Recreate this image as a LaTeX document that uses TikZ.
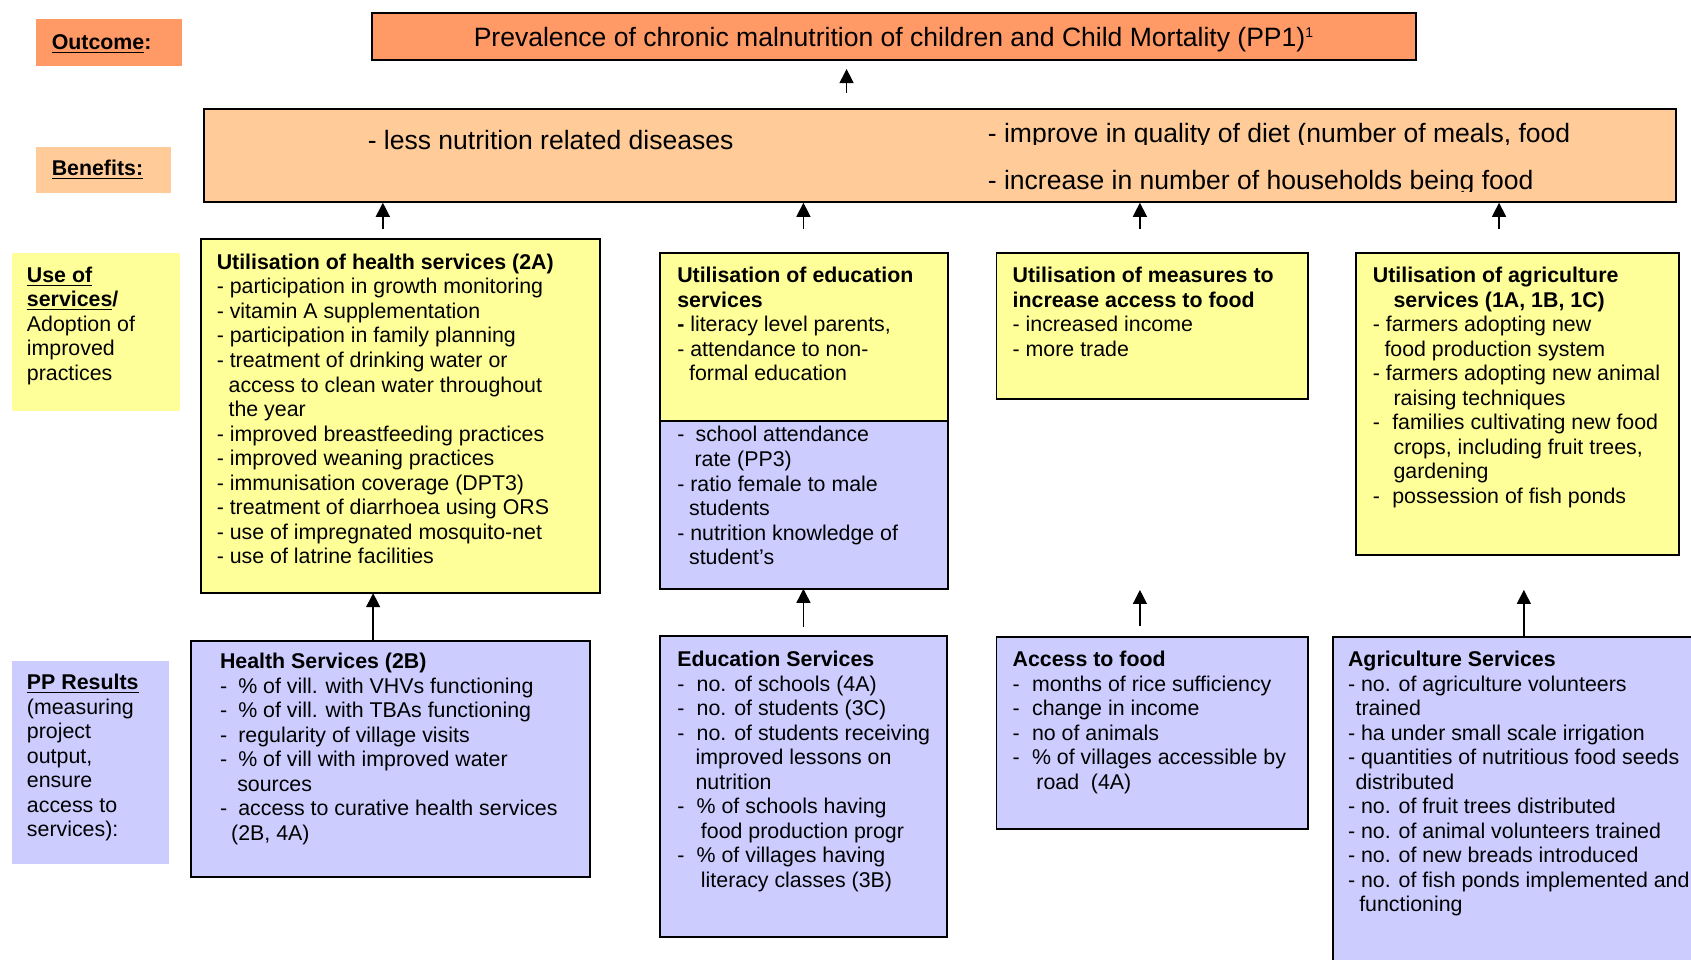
\documentclass[tikz,border=0pt]{standalone}
\usepackage{fontspec}
\setmainfont{Liberation Sans}
\usetikzlibrary{arrows.meta}

\definecolor{outorange}{HTML}{FF9966}
\definecolor{benorange}{HTML}{FFCC99}
\definecolor{useyellow}{HTML}{FFFF99}
\definecolor{pplav}{HTML}{CCCCFF}

% a dash set in a fixed-width slot, for hanging list items
\newcommand\dsh[1]{\makebox[#1][l]{-}}
% stacked lines whose baseline is the baseline of the first line
\newcommand\stack[1]{\begin{tabular}[t]{@{}l@{}}#1\end{tabular}}

% rectangle node given by its two corners (x1,y1) (x2,y2)
\newcommand\rectnode[6]{%
  \pgfmathsetmacro\rnw{(#5-#3)*0.5}%
  \pgfmathsetmacro\rnh{(#6-#4)*0.5}%
  \node[#2, minimum width=\rnw pt, minimum height=\rnh pt] (#1) at ({(#3+#5)/2},{(#4+#6)/2}) {};%
}

\tikzset{
  box/.style={draw=black, line width=0.9pt, inner sep=0pt, outer sep=0pt, rectangle},
  tag/.style={inner sep=0pt, outer sep=0pt, rectangle},
  txt/.style={anchor=base west, inner sep=0pt, outer sep=0pt,
              font=\fontsize{9.9}{11.37}\selectfont},
  bigtxt/.style={anchor=base west, inner sep=0pt, outer sep=0pt,
              font=\fontsize{12.3}{14}\selectfont},
  arr/.style={line width=0.6pt, -{Triangle[length=6.5pt,width=6.5pt]}},
}

\begin{document}
\begin{tikzpicture}[x=0.5pt, y=-0.5pt]
\fill[white] (0,0) rectangle (1568,890);
\clip (0,0) rectangle (1568,890);

% ---------- row labels ----------
\rectnode{lblOut}{tag, fill=outorange}{33}{18}{169}{61}
\node[txt] (lblOutT) at (48,45.5) {\textbf{\underline{Outcome}:}};

\rectnode{lblBen}{tag, fill=benorange}{33}{136}{159}{179}
\node[txt] (lblBenT) at (48,162.5) {\textbf{\underline{Benefits:}}};

\rectnode{lblUse}{tag, fill=useyellow}{11}{235}{167}{381}
\node[txt] (lblUseT) at (25,261.5) {\stack{\textbf{\underline{Use of}}\\
\textbf{\underline{services}/}\\
Adoption of\\
improved\\
practices}};

\rectnode{lblPP}{tag, fill=pplav}{11}{613}{157}{801}
\node[txt] (lblPPT) at (25,639.5) {\stack{\textbf{\underline{PP Results}}\\
(measuring\\
project\\
output,\\
ensure\\
access to\\
services):}};

% ---------- outcome ----------
\rectnode{out}{box, fill=outorange}{345}{12}{1313}{56}
\node[anchor=base, inner sep=0pt, font=\fontsize{12.3}{14}\selectfont] (outT) at (829,43.5)
  {Prevalence of chronic malnutrition of children and Child Mortality (PP1)\textsuperscript{\fontsize{6.5}{7}\selectfont 1}};

% ---------- benefits ----------
\rectnode{ben}{box, fill=benorange}{189}{101}{1554}{187}
\node[bigtxt] (benA) at (341,138.5) {- less nutrition related diseases};
\begin{scope}
  \clip (900,105) rectangle (1550,134);
  \node[bigtxt] (benB) at (916,131.8) {- improve in quality of diet (number of meals, food};
\end{scope}
\begin{scope}
  \clip (900,140) rectangle (1550,177.8);
  \node[bigtxt] (benC) at (916,175.6) {- increase in number of households being food};
\end{scope}

% ---------- use of services ----------
\rectnode{hu}{box, fill=useyellow}{186}{222}{556}{550}
\node[txt] (huT) at (201,249.8) {\stack{\textbf{Utilisation of health services (2A)}\\
- participation in growth monitoring\\
- vitamin A supplementation\\
- participation in family planning\\
- treatment of drinking water or\\
\hspace*{5.5pt}access to clean water throughout\\
\hspace*{5.5pt}the year\\
- improved breastfeeding practices\\
- improved weaning practices\\
- immunisation coverage (DPT3)\\
- treatment of diarrhoea using ORS\\
- use of impregnated mosquito-net\\
- use of latrine facilities}};

\rectnode{eu}{box, fill=useyellow}{612}{235}{879}{390}
\rectnode{el}{box, fill=pplav}{612}{390}{879}{546}
\node[txt] (euT) at (628,262) {\stack{\textbf{Utilisation of education}\\
\textbf{services}\\
\textbf{-} literacy level parents,\\
- attendance to non-\\
\hspace*{5.5pt}formal education}};
\node[txt] (elT) at (628,409.8) {\stack{\dsh{8.5pt}school attendance\\
\hspace*{8pt}rate (PP3)\\
- ratio female to male\\
\hspace*{5.5pt}students\\
- nutrition knowledge of\\
\hspace*{5.5pt}student’s}};

\rectnode{fu}{box, fill=useyellow}{924}{235}{1213}{370}
\node[txt] (fuT) at (939,262) {\stack{\textbf{Utilisation of measures to}\\
\textbf{increase access to food}\\
- increased income\\
- more trade}};

\rectnode{au}{box, fill=useyellow}{1257}{235}{1557}{515}
\node[txt] (auT) at (1273,262) {\stack{\textbf{Utilisation of agriculture}\\
\hspace*{9.6pt}\textbf{services (1A, 1B, 1C)}\\
- farmers adopting new\\
\hspace*{5.4pt}food production system\\
- farmers adopting new animal\\
\hspace*{9.6pt}raising techniques\\
\dsh{9pt}families cultivating new food\\
\hspace*{9.6pt}crops, including fruit trees,\\
\hspace*{9.6pt}gardening\\
\dsh{9pt}possession of fish ponds}};

% ---------- PP results ----------
\rectnode{hp}{box, fill=pplav}{177}{594}{547}{813}
\node[txt] (hpT) at (204,620) {\stack{\textbf{Health Services (2B)}\\
\dsh{8.5pt}\% of vill. with VHVs functioning\\
\dsh{8.5pt}\% of vill. with TBAs functioning\\
\dsh{8.5pt}regularity of village visits\\
\dsh{8.5pt}\% of vill with improved water\\
\hspace*{8pt}sources\\
\dsh{8.5pt}access to curative health services\\
\hspace*{5.2pt}(2B, 4A)}};

\rectnode{ep}{box, fill=pplav}{612}{590}{878}{869}
\node[txt] (epT) at (628,618) {\stack{\textbf{Education Services}\\
\dsh{9pt}no. of schools (4A)\\
\dsh{9pt}no. of students (3C)\\
\dsh{9pt}no. of students receiving\\
\hspace*{8.5pt}improved lessons on\\
\hspace*{8.5pt}nutrition\\
\dsh{9pt}\% of schools having\\
\hspace*{11pt}food production progr\\
\dsh{9pt}\% of villages having\\
\hspace*{11pt}literacy classes (3B)}};

\rectnode{fp}{box, fill=pplav}{924}{591}{1213}{769}
\node[txt] (fpT) at (939,618) {\stack{\textbf{Access to food}\\
\dsh{9pt}months of rice sufficiency\\
\dsh{9pt}change in income\\
\dsh{9pt}no of animals\\
\dsh{9pt}\% of villages accessible by\\
\hspace*{11pt}road\ \ (4A)}};

\rectnode{ap}{box, fill=pplav}{1236}{591}{1620}{930}
\node[txt] (apT) at (1250,618) {\stack{\textbf{Agriculture Services}\\
- no. of agriculture volunteers\\
\hspace*{3.5pt}trained\\
- ha under small scale irrigation\\
- quantities of nutritious food seeds\\
\hspace*{3.5pt}distributed\\
- no. of fruit trees distributed\\
- no. of animal volunteers trained\\
- no. of new breads introduced\\
- no. of fish ponds implemented and\\
\hspace*{5.2pt}functioning}};

% ---------- connectors ----------
\coordinate (xOut) at (785,0);
\coordinate (xH) at (355,0);
\coordinate (xE) at (745,0);
\coordinate (xF) at (1057,0);
\coordinate (xA) at (1390,0);
\coordinate (xHp) at (346,0);
\coordinate (fTip) at (1057,547);
\coordinate (aTip) at (1413,547);

\draw[arr, shorten <=7.5pt, shorten >=4pt] (ben.north -| xOut) -- (out.south -| xOut);

\draw[arr, shorten <=5pt, shorten >=0.5pt] (hu.north -| xH) -- (ben.south -| xH);
\draw[arr, shorten <=11.5pt, shorten >=0.5pt] (eu.north -| xE) -- (ben.south -| xE);
\draw[arr, shorten <=11.5pt, shorten >=0.5pt] (fu.north -| xF) -- (ben.south -| xF);
\draw[arr, shorten <=11.5pt, shorten >=0.5pt] (au.north -| xA) -- (ben.south -| xA);

\draw[arr] (hp.north -| xHp) -- (hu.south -| xHp);
\draw[arr, shorten <=4.5pt] (ep.north -| xE) -- (el.south -| xE);
\draw[arr, shorten <=5.5pt] (fp.north -| fTip) -- (fTip);
\draw[arr] (ap.north -| aTip) -- (aTip);
\end{tikzpicture}
\end{document}
